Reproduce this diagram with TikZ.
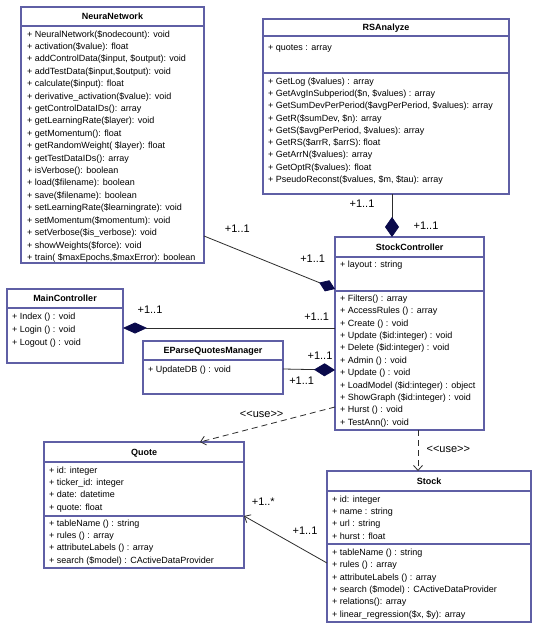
\documentclass[tikz,border=0pt]{standalone}
\usepackage{fontspec}
\setmainfont{Liberation Sans}
\usetikzlibrary{arrows.meta}
\definecolor{boxc}{RGB}{95,95,165}
\definecolor{dia}{RGB}{10,10,75}
\definecolor{lnc}{RGB}{45,45,45}
\tikzset{
 cls/.style={draw=boxc, line width=1.1pt, fill=white, anchor=north west, inner sep=0pt, outer sep=0pt},
 sepl/.style={draw=boxc, line width=1.1pt},
 row/.style={anchor=base west, inner sep=0pt, font=\fontsize{9}{10}\selectfont},
 hdr/.style={anchor=base, inner sep=0pt, font=\bfseries\fontsize{9}{10}\selectfont},
 mult/.style={inner sep=0pt, font=\fontsize{11}{12}\selectfont},
 conn/.style={draw=lnc, line width=0.8pt},
 usel/.style={conn, dash pattern=on 6pt off 4pt, -{Straight Barb[length=5pt,width=9pt]}},
 openarr/.style={conn, -{Straight Barb[length=5pt,width=9pt]}},
}
\newcommand{\usetxt}{<\kern0pt<\kern0pt use\kern0pt>\kern0pt>}
\begin{document}
\begin{tikzpicture}[x=1pt,y=-1pt]
\useasboundingbox[fill=white] (0,0) rectangle (543,628);

% NeuraNetwork
\node[cls, minimum width=183pt, minimum height=256pt] (nn) at (21,7) {};
\draw[sepl] (21,26) -- (204,26);
\node[hdr] (nnh) at (112.5,19.7) {NeuraNetwork};
\foreach \t [count=\i from 0] in {
 {+ NeuralNetwork(\$nodecount): void},
 {+ activation(\$value): float},
 {+ addControlData(\$input, \$output): void},
 {+ addTestData(\$input,\$output): void},
 {+ calculate(\$input): float},
 {+ derivative\_activation(\$value): void},
 {+ getControlDataIDs(): array},
 {+ getLearningRate(\$layer): void},
 {+ getMomentum(): float},
 {+ getRandomWeight( \$layer): float},
 {+ getTestDataIDs(): array},
 {+ isVerbose(): boolean},
 {+ load(\$filename): boolean},
 {+ save(\$filename): boolean},
 {+ setLearningRate(\$learningrate): void},
 {+ setMomentum(\$momentum): void},
 {+ setVerbose(\$is\_verbose): void},
 {+ showWeights(\$force): void},
 {+ train( \$maxEpochs,\$maxError): boolean}}
 \node[row] (nnr\i) at (27,{34+\i*12.4+3.2}) {\t};

% RSAnalyze
\node[cls, minimum width=246pt, minimum height=175pt] (rs) at (263,19) {};
\draw[sepl] (263,36) -- (509,36);
\draw[sepl] (263,73) -- (509,73);
\node[hdr] (rsh) at (386,30.7) {RSAnalyze};
\node[row] (rsa) at (268,50.2) {+ quotes : array};
\foreach \t [count=\i from 0] in {
 {+ GetLog (\$values) : array},
 {+ GetAvgInSubperiod(\$n, \$values) : array},
 {+ GetSumDevPerPeriod(\$avgPerPeriod, \$values): array},
 {+ GetR(\$sumDev, \$n): array},
 {+ GetS(\$avgPerPeriod, \$values): array},
 {+ GetRS(\$arrR, \$arrS): float},
 {+ GetArrN(\$values): array},
 {+ GetOptR(\$values): float},
 {+ PseudoReconst(\$values, \$m, \$tau): array}}
 \node[row] (rsr\i) at (268,{81+\i*12.3+3.2}) {\t};

% StockController
\node[cls, minimum width=149pt, minimum height=193pt] (sc) at (335,237) {};
\draw[sepl] (335,257) -- (484,257);
\draw[sepl] (335,291) -- (484,291);
\node[hdr] (sch) at (409.5,250.2) {StockController};
\node[row] (sca) at (340,267.2) {+ layout : string};
\foreach \t [count=\i from 0] in {
 {+ Filters() : array},
 {+ AccessRules () : array},
 {+ Create () : void},
 {+ Update (\$id:integer) : void},
 {+ Delete (\$id:integer) : void},
 {+ Admin () : void},
 {+ Update () : void},
 {+ LoadModel (\$id:integer) : object},
 {+ ShowGraph (\$id:integer) : void},
 {+ Hurst () : void},
 {+ TestAnn(): void}}
 \node[row] (scr\i) at (340,{298+\i*12.4+3.2}) {\t};

% MainController
\node[cls, minimum width=116pt, minimum height=74pt] (mc) at (7,289) {};
\draw[sepl] (7,308) -- (123,308);
\node[hdr] (mch) at (65,301.7) {MainController};
\foreach \t [count=\i from 0] in {
 {+ Index () : void},
 {+ Login () : void},
 {+ Logout () : void}}
 \node[row] (mcr\i) at (12,{316+\i*12.9+3.2}) {\t};

% EParseQuotesManager
\node[cls, minimum width=140pt, minimum height=53pt] (ep) at (143,341) {};
\draw[sepl] (143,360) -- (283,360);
\node[hdr] (eph) at (213,353.7) {EParseQuotesManager};
\node[row] (epr) at (148,372.2) {+ UpdateDB () : void};

% Quote
\node[cls, minimum width=200pt, minimum height=126pt] (q) at (44,442) {};
\draw[sepl] (44,462) -- (244,462);
\draw[sepl] (44,516) -- (244,516);
\node[hdr] (qh) at (144,455.2) {Quote};
\foreach \t [count=\i from 0] in {
 {+ id: integer},
 {+ ticker\_id: integer},
 {+ date: datetime},
 {+ quote: float}}
 \node[row] (qa\i) at (49,{470+\i*12.3+3.2}) {\t};
\foreach \t [count=\i from 0] in {
 {+ tableName () : string},
 {+ rules () : array},
 {+ attributeLabels () : array},
 {+ search (\$model) : CActiveDataProvider}}
 \node[row] (qm\i) at (49,{523+\i*12.3+3.2}) {\t};

% Stock
\node[cls, minimum width=204pt, minimum height=151pt] (st) at (327,471) {};
\draw[sepl] (327,491) -- (531,491);
\draw[sepl] (327,544) -- (531,544);
\node[hdr] (sth) at (429,484.2) {Stock};
\foreach \t [count=\i from 0] in {
 {+ id: integer},
 {+ name : string},
 {+ url : string},
 {+ hurst : float}}
 \node[row] (sta\i) at (332,{499+\i*12.3+3.2}) {\t};
\foreach \t [count=\i from 0] in {
 {+ tableName () : string},
 {+ rules () : array},
 {+ attributeLabels () : array},
 {+ search (\$model) : CActiveDataProvider},
 {+ relations(): array},
 {+ linear\_regression(\$x, \$y): array}}
 \node[row] (stm\i) at (332,{552+\i*12.4+3.2}) {\t};

% connectors
\draw[conn, -{Diamond[length=20pt,width=14pt,color=dia,fill=dia]}] ([xshift=6pt]rs.south) -- ([xshift=-17.5pt]sc.north);
\draw[conn, -{Diamond[length=17pt,width=12pt,color=dia,fill=dia]}] ([yshift=-101pt]nn.east) -- ([yshift=44.5pt]sc.west);
\draw[conn, -{Diamond[length=24pt,width=11pt,color=dia,fill=dia]}] ([yshift=5.5pt]sc.west) -- ([yshift=-2pt]mc.east);
\draw[conn, {Diamond[length=21pt,width=13pt,color=dia,fill=dia]}-] ([yshift=-36.5pt]sc.west) -- ([yshift=-1.5pt]ep.east);
\draw[usel] ([yshift=-73.5pt]sc.west) -- ([xshift=56pt]q.north);
\draw[usel] ([xshift=8.5pt]sc.south) -- ([xshift=-11pt]st.north);
\draw[openarr] ([yshift=-16.5pt]st.west) -- ([yshift=-11pt]q.east);

% multiplicities
\node[mult] (m1) at (362,203.3) {+1..1};
\node[mult] (m2) at (426,225.7) {+1..1};
\node[mult] (m3) at (237.3,229) {+1..1};
\node[mult] (m4) at (312.7,258.3) {+1..1};
\node[mult] (m5) at (150,310) {+1..1};
\node[mult] (m6) at (316.7,316.7) {+1..1};
\node[mult] (m7) at (320,356) {+1..1};
\node[mult] (m8) at (301.7,380.7) {+1..1};
\node[mult] (u1) at (261.7,414) {\usetxt};
\node[mult] (u2) at (448.3,449.3) {\usetxt};
\node[mult] (m9) at (263.3,501.7) {+1..*};
\node[mult] (m10) at (305,530.7) {+1..1};
\end{tikzpicture}
\end{document}
